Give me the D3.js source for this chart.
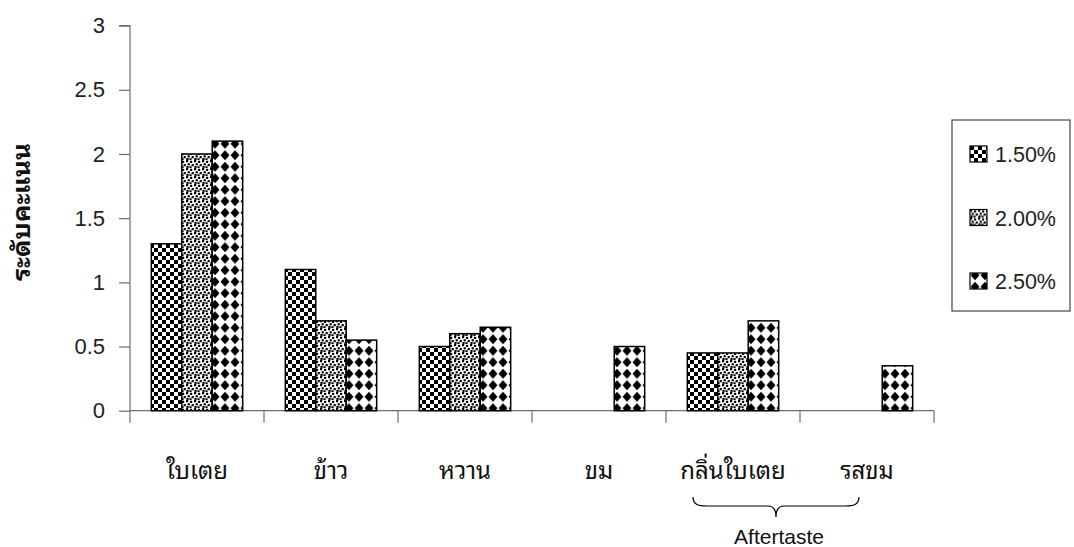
<!DOCTYPE html>
<html>
<head>
<meta charset="utf-8">
<script src="https://cdn.jsdelivr.net/npm/d3@7"></script>
<style>
  html, body { margin: 0; padding: 0; background: #fff; }
  svg { display: block; }
  .tick text { font-family: Arial, "Liberation Sans", sans-serif; }
</style>
</head>
<body>
<svg id="chart" width="1074" height="547"></svg>
<script>
// Sensory scores by attribute for three concentrations
const categories = ["ใบเตย", "ข้าว", "หวาน", "ขม", "กลิ่นใบเตย", "รสขม"];
const series = ["1.50%", "2.00%", "2.50%"];
const values150 = [1.3, 1.1, 0.5, 0, 0.45, 0];
const values200 = [2.0, 0.7, 0.6, 0, 0.45, 0];
const values250 = [2.1, 0.55, 0.65, 0.5, 0.7, 0.35];
const yTicks = [0, 0.5, 1, 1.5, 2, 2.5, 3];
const yTitle = "ระดับคะแนน";
const braceLabel = "Aftertaste";
const bracedCategories = ["กลิ่นใบเตย", "รสขม"];

const seriesValues = [values150, values200, values250];
const rows = categories.map((c, i) => ({
  category: c,
  bars: series.map((s, j) => ({ series: s, idx: j, value: seriesValues[j][i] }))
}));

const svg = d3.select("#chart");
const axisColor = "#6e6e6e";
const latin = "Arial, 'Liberation Sans', sans-serif";
const thaiFont = "'Noto Sans Thai Looped', 'Noto Sans Thai', Tahoma, 'DejaVu Sans', sans-serif";

// Fill patterns for each series
const defs = svg.append("defs");
const pChecker = defs.append("pattern").attr("id", "pat0")
  .attr("patternUnits", "userSpaceOnUse").attr("width", 8).attr("height", 8);
pChecker.append("rect").attr("width", 8).attr("height", 8).attr("fill", "#fff");
pChecker.append("rect").attr("width", 4).attr("height", 4).attr("fill", "#000");
pChecker.append("rect").attr("x", 4).attr("y", 4).attr("width", 4).attr("height", 4).attr("fill", "#000");

const pDots = defs.append("pattern").attr("id", "pat1")
  .attr("patternUnits", "userSpaceOnUse").attr("width", 8).attr("height", 8);
pDots.append("rect").attr("width", 8).attr("height", 8).attr("fill", "#fff");
[[0, 0], [4, 0.8], [1.6, 3.2], [5.6, 4], [0.4, 6], [3.4, 6.2]].forEach(([x, y]) => {
  pDots.append("rect").attr("x", x).attr("y", y).attr("width", 2.2).attr("height", 2.2).attr("fill", "#000");
});

const pDiam = defs.append("pattern").attr("id", "pat2")
  .attr("patternUnits", "userSpaceOnUse").attr("width", 10).attr("height", 11.5);
pDiam.append("rect").attr("width", 10).attr("height", 11.5).attr("fill", "#fff");
pDiam.append("path").attr("d", "M5,0.6 L9.5,5.75 L5,10.9 L0.5,5.75 Z").attr("fill", "#000");

const margin = { left: 130, right: 934, top: 25.6, bottom: 410.7 };

const x = d3.scaleBand().domain(categories).range([margin.left, margin.right]).paddingInner(0).paddingOuter(0);
const xs = d3.scaleBand().domain(series).range([0, x.bandwidth()]).paddingInner(0).paddingOuter(0.7);
const y = d3.scaleLinear().domain([0, 3]).range([margin.bottom, margin.top]);

// Y axis
const yAxis = svg.append("g").attr("transform", `translate(${margin.left},0)`)
  .call(d3.axisLeft(y).tickValues(yTicks).tickSize(11).tickPadding(14).tickFormat(d3.format("")));
yAxis.selectAll("path, line").attr("stroke", axisColor).attr("stroke-width", 1.2);
yAxis.select(".domain").attr("d", `M-11,${y(3)}H0V${y(0)}`);
yAxis.selectAll("text").attr("font-size", 22).attr("fill", "#222");

// X axis with category separators
const xAxisG = svg.append("g").attr("transform", `translate(0,${y(0)})`);
xAxisG.append("line").attr("x1", margin.left).attr("x2", margin.right)
  .attr("stroke", axisColor).attr("stroke-width", 1.2);
const bounds = categories.map(c => x(c)).concat([margin.right]);
xAxisG.selectAll("line.sep").data(bounds).join("line").attr("class", "sep")
  .attr("x1", d => d).attr("x2", d => d).attr("y1", 0).attr("y2", 12)
  .attr("stroke", axisColor).attr("stroke-width", 1.2);

// Bars
const groups = svg.append("g").selectAll("g").data(rows).join("g")
  .attr("transform", d => `translate(${x(d.category)},0)`);
groups.selectAll("rect").data(d => d.bars.filter(b => b.value > 0)).join("rect")
  .attr("x", b => xs(b.series))
  .attr("y", b => y(b.value))
  .attr("width", xs.bandwidth())
  .attr("height", b => y(0) - y(b.value))
  .attr("fill", b => `url(#pat${b.idx})`)
  .attr("stroke", "#000").attr("stroke-width", 1.5);

// Category labels
svg.append("g").selectAll("text").data(categories).join("text")
  .attr("x", c => x(c) + x.bandwidth() / 2)
  .attr("y", 479)
  .attr("text-anchor", "middle")
  .attr("font-family", thaiFont)
  .attr("font-size", 24)
  .attr("fill", "#111")
  .text(c => c);

// Y title
svg.append("text")
  .attr("transform", "translate(30,212) rotate(-90)")
  .attr("text-anchor", "middle")
  .attr("font-family", thaiFont)
  .attr("font-weight", "bold")
  .attr("font-size", 24)
  .attr("textLength", 138)
  .attr("lengthAdjust", "spacingAndGlyphs")
  .attr("fill", "#111")
  .text(yTitle);

// Brace beneath the aftertaste attributes
const bx0 = x(bracedCategories[0]) + 27;
const bx1 = x(bracedCategories[1]) + x.bandwidth() / 2 - 8;
const bm = (bx0 + bx1) / 2;
const by = 497;
svg.append("path")
  .attr("d", `M${bx0},${by} C${bx0},${by + 8} ${bx0 + 6},${by + 9} ${bx0 + 14},${by + 9}
              L${bm - 8},${by + 9} C${bm - 3},${by + 9} ${bm},${by + 12} ${bm},${by + 20}
              C${bm},${by + 12} ${bm + 3},${by + 9} ${bm + 8},${by + 9}
              L${bx1 - 14},${by + 9} C${bx1 - 6},${by + 9} ${bx1},${by + 8} ${bx1},${by}`)
  .attr("fill", "none").attr("stroke", "#000").attr("stroke-width", 1.2);
svg.append("text")
  .attr("x", bm + 3).attr("y", 544)
  .attr("text-anchor", "middle")
  .attr("font-family", latin)
  .attr("font-size", 21)
  .attr("fill", "#111")
  .text(braceLabel);

// Legend
const legend = svg.append("g");
legend.append("rect").attr("x", 952).attr("y", 120).attr("width", 118).attr("height", 191)
  .attr("fill", "#fff").attr("stroke", "#444").attr("stroke-width", 1.2);
const ly = d3.scalePoint().domain(series).range([154, 281]);
const li = legend.selectAll("g.item").data(series).join("g").attr("class", "item")
  .attr("transform", s => `translate(970,${ly(s)})`);
li.append("rect").attr("x", 0).attr("y", -8).attr("width", 17).attr("height", 16)
  .attr("fill", (s, i) => `url(#pat${i})`).attr("stroke", "#000").attr("stroke-width", 1.2);
li.append("text").attr("x", 25).attr("y", 8)
  .attr("font-family", latin)
  .attr("font-size", 21.5).attr("fill", "#222")
  .text(s => s);
</script>
</body>
</html>
